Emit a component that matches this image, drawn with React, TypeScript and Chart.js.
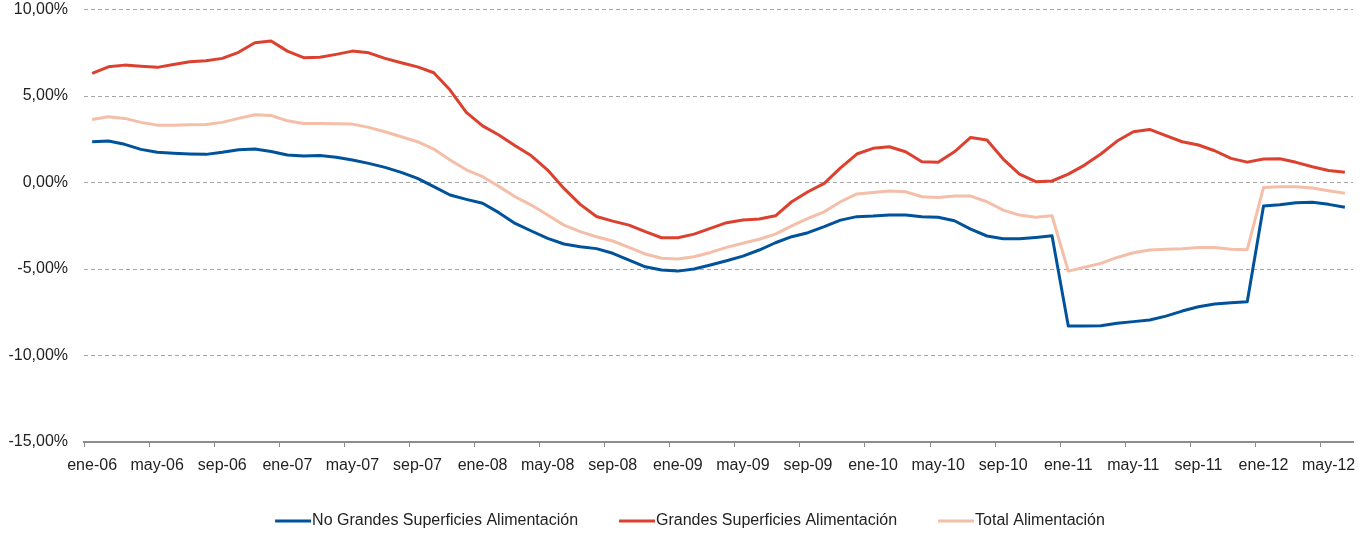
import React, { useEffect, useRef } from 'react';
import { Chart, registerables } from 'chart.js';

Chart.register(...registerables);

const FONT = '"Liberation Sans", Arial, sans-serif';

const MONTHS = ['ene', 'feb', 'mar', 'abr', 'may', 'jun', 'jul', 'ago', 'sep', 'oct', 'nov', 'dic'];
const YEARS = ['06', '07', '08', '09', '10', '11', '12'];
const ALL_MONTHS: string[] = [];
YEARS.forEach((y) => MONTHS.forEach((m) => ALL_MONTHS.push(`${m}-${y}`)));
// ene-06 .. jun-12
const CATEGORIES = ALL_MONTHS.slice(0, 78);

const Y_TICKS = [-15, -10, -5, 0, 5, 10];

const NO_GRANDES = [
  2.36, 2.40, 2.21, 1.92, 1.75, 1.69, 1.65, 1.63, 1.75, 1.90, 1.94, 1.80,
  1.59, 1.53, 1.57, 1.46, 1.30, 1.11, 0.88, 0.59, 0.24, -0.24, -0.72, -0.97,
  -1.20, -1.74, -2.36, -2.80, -3.23, -3.55, -3.71, -3.82, -4.09, -4.48, -4.87, -5.06,
  -5.12, -5.00, -4.77, -4.52, -4.25, -3.90, -3.48, -3.13, -2.90, -2.55, -2.17, -1.97,
  -1.94, -1.88, -1.88, -1.97, -2.01, -2.21, -2.69, -3.09, -3.25, -3.25, -3.17, -3.07,
  -8.29, -8.29, -8.28, -8.14, -8.04, -7.95, -7.72, -7.43, -7.18, -7.02, -6.95, -6.89,
  -1.36, -1.28, -1.17, -1.14, -1.26, -1.43,
];

const GRANDES = [
  6.31, 6.69, 6.79, 6.73, 6.66, 6.83, 6.98, 7.04, 7.18, 7.53, 8.08, 8.18,
  7.60, 7.22, 7.24, 7.41, 7.60, 7.50, 7.18, 6.93, 6.69, 6.35, 5.35, 4.06,
  3.28, 2.75, 2.13, 1.55, 0.72, -0.34, -1.26, -1.96, -2.23, -2.46, -2.84, -3.19,
  -3.19, -2.98, -2.65, -2.32, -2.17, -2.11, -1.92, -1.11, -0.53, -0.05, 0.85, 1.65,
  1.98, 2.07, 1.78, 1.20, 1.17, 1.78, 2.61, 2.46, 1.36, 0.49, 0.05, 0.09,
  0.49, 1.01, 1.65, 2.40, 2.94, 3.07, 2.71, 2.36, 2.17, 1.84, 1.40, 1.18,
  1.36, 1.38, 1.17, 0.91, 0.70, 0.59,
];

const TOTAL = [
  3.65, 3.80, 3.71, 3.48, 3.32, 3.32, 3.34, 3.36, 3.48, 3.71, 3.92, 3.88,
  3.57, 3.42, 3.42, 3.40, 3.38, 3.19, 2.94, 2.65, 2.36, 1.94, 1.30, 0.74,
  0.34, -0.22, -0.82, -1.30, -1.88, -2.46, -2.84, -3.13, -3.38, -3.75, -4.13, -4.38,
  -4.42, -4.29, -4.04, -3.75, -3.51, -3.28, -2.98, -2.50, -2.07, -1.69, -1.11, -0.66,
  -0.57, -0.49, -0.53, -0.82, -0.86, -0.78, -0.78, -1.11, -1.59, -1.88, -2.01, -1.92,
  -5.12, -4.90, -4.67, -4.33, -4.06, -3.90, -3.86, -3.82, -3.75, -3.75, -3.86, -3.88,
  -0.28, -0.24, -0.24, -0.32, -0.47, -0.62,
];

const SERIES_LABELS = [
  'No Grandes Superficies Alimentación',
  'Grandes Superficies Alimentación',
  'Total Alimentación',
];
const SERIES_COLORS = ['#00529B', '#DB412E', '#F4BEA8'];

const TEXT_COLOR = '#222222';

const fmtPct = (v: number) => `${v.toFixed(2).replace('.', ',')}%`;

const legendPlugin = {
  id: 'bottomLegend',
  afterDraw(chart: any) {
    const ctx = chart.ctx as CanvasRenderingContext2D;
    ctx.save();
    ctx.font = `16px ${FONT}`;
    const items = chart.data.datasets.map((ds: any) => ({
      text: ds.label as string,
      color: ds.borderColor as string,
      w: ctx.measureText(ds.label).width,
    }));
    const sw = 36;
    const gap = 1;
    const spacing = 41;
    const total =
      items.reduce((a: number, it: any) => a + sw + gap + it.w, 0) + spacing * (items.length - 1);
    let x = 690 - total / 2;
    const y = 521;
    items.forEach((it: any) => {
      ctx.strokeStyle = it.color;
      ctx.lineWidth = 3;
      ctx.lineCap = 'butt';
      ctx.beginPath();
      ctx.moveTo(x, y);
      ctx.lineTo(x + sw, y);
      ctx.stroke();
      ctx.fillStyle = TEXT_COLOR;
      ctx.textBaseline = 'middle';
      ctx.textAlign = 'left';
      ctx.fillText(it.text, x + sw + gap, y);
      x += sw + gap + it.w + spacing;
    });
    ctx.restore();
  },
};

export default function App() {
  const canvasRef = useRef<HTMLCanvasElement | null>(null);

  useEffect(() => {
    document.body.style.margin = '0';
    const canvas = canvasRef.current;
    if (!canvas) return;
    const data = [NO_GRANDES, GRANDES, TOTAL];
    const chart = new Chart(canvas, {
      type: 'line',
      data: {
        labels: CATEGORIES,
        datasets: data.map((values, i) => ({
          label: SERIES_LABELS[i],
          data: values,
          borderColor: SERIES_COLORS[i],
          backgroundColor: SERIES_COLORS[i],
          borderWidth: 3,
          pointRadius: 0,
          pointHoverRadius: 0,
          tension: 0,
          fill: false,
          borderJoinStyle: 'round' as const,
        })),
      },
      plugins: [legendPlugin],
      options: {
        animation: false,
        responsive: false,
        maintainAspectRatio: false,
        layout: { padding: { left: 0, right: 15, top: 0, bottom: 57 } },
        plugins: {
          legend: { display: false },
          tooltip: { enabled: false },
        },
        scales: {
          x: {
            type: 'category',
            offset: true,
            grid: {
              offset: true,
              drawOnChartArea: false,
              drawTicks: true,
              tickLength: 5,
              tickWidth: 1,
              tickColor: (ctx: any) =>
                ctx.index !== undefined && ctx.index % 4 === 0 ? '#8c8c8c' : 'rgba(0,0,0,0)',
            },
            border: { display: true, color: '#8c8c8c', width: 2 },
            ticks: {
              autoSkip: false,
              maxRotation: 0,
              minRotation: 0,
              padding: 9,
              color: TEXT_COLOR,
              font: { family: FONT, size: 16 },
              callback: (_v: any, i: number) => (i % 4 === 0 ? CATEGORIES[i] : ''),
            },
            afterFit: (s: any) => {
              s.height = 34;
            },
          },
          y: {
            min: Y_TICKS[0],
            max: Y_TICKS[Y_TICKS.length - 1],
            afterBuildTicks: (s: any) => {
              s.ticks = Y_TICKS.map((v) => ({ value: v }));
            },
            ticks: {
              padding: 0,
              color: TEXT_COLOR,
              font: { family: FONT, size: 16 },
              callback: (v: any) => fmtPct(Number(v)),
            },
            grid: {
              color: '#a6a6a6',
              lineWidth: 1,
              drawTicks: true,
              tickLength: 16,
              tickColor: 'rgba(0,0,0,0)',
            },
            border: { display: false, dash: [4, 3] },
            afterFit: (s: any) => {
              s.width = 84;
            },
          },
        },
      } as any,
    });
    return () => chart.destroy();
  }, []);

  return (
    <div style={{ width: 1368, height: 533, overflow: 'hidden' }}>
      <canvas ref={canvasRef} width={1368} height={533} style={{ display: 'block' }} />
    </div>
  );
}
